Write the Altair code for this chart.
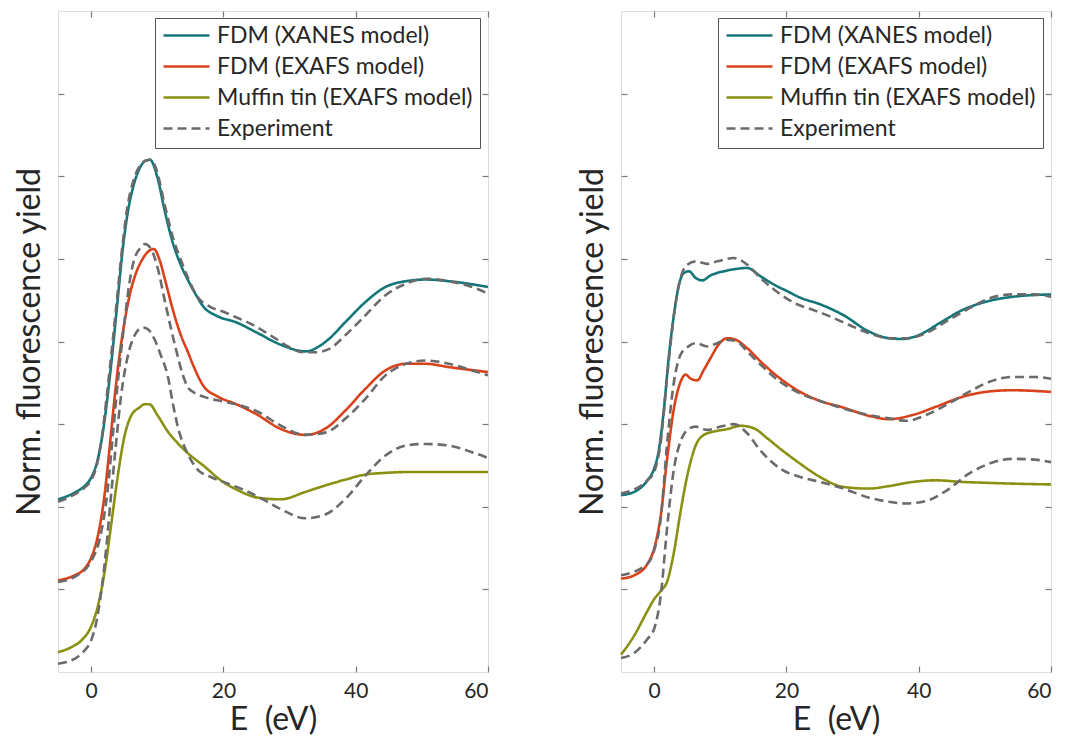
import altair as alt
import pandas as pd

SERIES = ["FDM (XANES model)", "FDM (EXAFS model)", "Muffin tin (EXAFS model)", "Experiment"]
COLORS = ["#13777a", "#d9411a", "#8a9012", "#6b6b6b"]
DASHES = [[1, 0], [1, 0], [1, 0], [9, 5]]

# ---------------- Left panel ----------------
L_xanes_E = [-5, -2.5, -1, 0, 1, 1.76, 2.5, 3.27, 4.03, 4.79, 5.54, 6.3, 7.3, 8.3, 8.9, 10.08, 11.08, 12.34, 13.6, 14.6, 15.6, 17, 19, 22, 25, 28.7, 32.4, 35.5, 38.5, 41.5, 44.5, 47.6, 50.6, 54.1, 60]
L_xanes_Y = [2.09, 2.17, 2.25, 2.35, 2.57, 2.89, 3.34, 3.9, 4.51, 5.12, 5.56, 5.85, 6.09, 6.19, 6.2, 5.97, 5.6, 5.2, 4.92, 4.75, 4.6, 4.42, 4.31, 4.23, 4.11, 3.96, 3.88, 4.0, 4.24, 4.48, 4.66, 4.73, 4.75, 4.73, 4.66]

L_exafs_E = [-5, -2.5, -1, 0, 1, 2, 2.77, 3.53, 4.28, 5.04, 5.8, 6.8, 7.8, 8.8, 9.5, 10.3, 11.3, 12.34, 13.6, 14.6, 15.5, 17, 19, 22, 25, 28.7, 32.4, 35.5, 38.5, 41.5, 44.5, 47.6, 50.6, 54.1, 60]
L_exafs_Y = [1.11, 1.17, 1.25, 1.38, 1.64, 2.12, 2.69, 3.3, 3.82, 4.23, 4.55, 4.83, 5.0, 5.1, 5.12, 5.0, 4.71, 4.39, 4.07, 3.88, 3.7, 3.46, 3.34, 3.24, 3.12, 2.94, 2.87, 2.95, 3.17, 3.43, 3.65, 3.73, 3.73, 3.69, 3.63]

L_mt_E = [-5, -3, -1.5, 0, 1, 2, 3, 4.03, 5.04, 6.05, 7.3, 8.06, 8.8, 10.1, 11.6, 13.1, 14.6, 17.1, 19.6, 22.2, 25.2, 28.7, 32.4, 35.5, 38.5, 41.5, 44.5, 47.6, 54, 60]
L_mt_Y = [0.24, 0.3, 0.38, 0.55, 0.79, 1.19, 1.76, 2.37, 2.85, 3.1, 3.2, 3.24, 3.24, 3.1, 2.91, 2.77, 2.65, 2.49, 2.32, 2.2, 2.11, 2.09, 2.18, 2.26, 2.33, 2.39, 2.41, 2.42, 2.42, 2.42]

L_exp1_E = [-5, -2.5, -1, 0, 1, 1.7, 2.4, 3.2, 4.0, 4.8, 5.5, 6.3, 7.3, 8.3, 9, 10, 11, 12.3, 13.6, 14.6, 16, 18, 20, 22, 24, 26, 28, 30, 32, 34, 36, 38.5, 41.5, 44.5, 47.6, 50.6, 54.1, 57.6, 60]
L_exp1_Y = [2.06, 2.15, 2.23, 2.32, 2.55, 2.88, 3.36, 3.95, 4.58, 5.2, 5.63, 5.92, 6.12, 6.19, 6.2, 6.05, 5.7, 5.28, 4.98, 4.78, 4.55, 4.42, 4.36, 4.29, 4.22, 4.13, 4.03, 3.93, 3.87, 3.87, 3.91, 4.08, 4.32, 4.56, 4.7, 4.76, 4.73, 4.66, 4.58]

L_exp2_E = [-5, -2.5, 0, 1.5, 2.5, 3.27, 4.03, 5.04, 5.8, 6.55, 7.56, 8.16, 9.07, 10.1, 11.1, 12.1, 12.85, 13.85, 14.6, 15.6, 17.1, 20.2, 23.2, 25.2, 28.7, 32.4, 35.5, 38.5, 41.5, 44.5, 47.6, 50.6, 54.1, 57.6, 60]
L_exp2_Y = [1.09, 1.15, 1.34, 1.68, 2.2, 2.85, 3.5, 4.23, 4.71, 5.0, 5.14, 5.18, 5.12, 4.88, 4.51, 4.15, 3.9, 3.6, 3.45, 3.38, 3.33, 3.27, 3.21, 3.15, 2.98, 2.87, 2.9, 3.07, 3.31, 3.59, 3.73, 3.77, 3.73, 3.65, 3.59]

L_exp3_E = [-5, -2.5, -1, 0, 0.76, 1.5, 2.27, 3, 3.78, 4.53, 5.54, 6.55, 7.8, 8.56, 9.57, 10.6, 11.6, 12.34, 13.1, 14.1, 15, 16.1, 18.1, 20.7, 23.2, 26.2, 28.7, 32.4, 35.5, 38.5, 41.5, 44.5, 47.6, 50.6, 54.1, 57.6, 60]
L_exp3_Y = [0.1, 0.16, 0.26, 0.38, 0.59, 0.95, 1.48, 2.12, 2.77, 3.34, 3.82, 4.07, 4.17, 4.15, 4.03, 3.82, 3.58, 3.26, 2.97, 2.73, 2.58, 2.45, 2.36, 2.28, 2.2, 2.08, 1.97, 1.86, 1.91, 2.1, 2.38, 2.62, 2.74, 2.76, 2.74, 2.66, 2.59]

# ---------------- Right panel ----------------
R_xanes_E = [-5, -3, -1, 0, 0.75, 1.5, 2.26, 3, 3.77, 4.52, 5.28, 6.28, 7.29, 8.54, 10.55, 12.56, 14.07, 16.08, 18.09, 20.1, 22.1, 25.1, 28.6, 32.5, 35.5, 37.5, 40.1, 43.1, 46.6, 50.1, 54.1, 60]
R_xanes_Y = [2.14, 2.18, 2.32, 2.46, 2.7, 3.19, 3.84, 4.32, 4.69, 4.83, 4.85, 4.77, 4.74, 4.8, 4.85, 4.88, 4.89, 4.79, 4.69, 4.61, 4.53, 4.45, 4.32, 4.12, 4.04, 4.03, 4.08, 4.22, 4.38, 4.48, 4.54, 4.57]

R_exafs_E = [-5, -3, -1, 0, 1, 2, 3, 4, 4.77, 5.53, 6.53, 7.54, 8.54, 9.55, 11.06, 12.06, 14.07, 16.08, 19.1, 22.1, 25.1, 28.6, 32.5, 35.5, 39.1, 42.6, 46.6, 50.1, 54.1, 60]
R_exafs_Y = [1.13, 1.17, 1.31, 1.49, 1.89, 2.6, 3.19, 3.51, 3.6, 3.55, 3.53, 3.66, 3.8, 3.94, 4.04, 4.03, 3.92, 3.76, 3.55, 3.39, 3.28, 3.2, 3.1, 3.06, 3.11, 3.21, 3.33, 3.39, 3.41, 3.39]

R_mt_E = [-5, -3, -1, 0, 1, 2, 3, 4, 5.03, 6.28, 7.54, 9.05, 11.06, 13.07, 15.08, 17.09, 19.1, 22.1, 25.1, 28.6, 32.5, 35.5, 39.1, 42.6, 46.6, 50.1, 54.1, 60]
R_mt_Y = [0.21, 0.44, 0.74, 0.88, 0.98, 1.1, 1.45, 1.94, 2.38, 2.74, 2.87, 2.91, 2.94, 2.98, 2.95, 2.83, 2.7, 2.52, 2.36, 2.24, 2.22, 2.25, 2.3, 2.32, 2.3, 2.29, 2.28, 2.27]

R_exp1_E = [-5, -1, 0, 1.01, 2, 3, 4, 5.03, 6.28, 8.04, 9.55, 12.06, 14.07, 16.08, 19.1, 21.1, 24.1, 26.4, 29.5, 32.5, 35.5, 38.1, 41.1, 44.1, 47.6, 50.6, 54.1, 57.6, 60]
R_exp1_Y = [2.16, 2.32, 2.42, 2.79, 3.6, 4.32, 4.77, 4.93, 4.97, 4.94, 4.97, 5.01, 4.93, 4.77, 4.57, 4.47, 4.38, 4.31, 4.2, 4.1, 4.04, 4.04, 4.1, 4.24, 4.4, 4.52, 4.57, 4.57, 4.54]

R_exp2_E = [-5, -1, 0, 1, 2, 3, 4, 5.03, 6.28, 8.04, 9.55, 11.06, 12.56, 14.07, 16.08, 19.1, 22.1, 25.1, 28.6, 32.5, 35.5, 38.1, 41.1, 44.1, 47.6, 50.6, 54.1, 57.6, 60]
R_exp2_Y = [1.17, 1.31, 1.47, 1.85, 2.79, 3.51, 3.84, 3.93, 3.98, 3.94, 3.98, 4.02, 4.0, 3.88, 3.72, 3.51, 3.37, 3.28, 3.19, 3.11, 3.07, 3.04, 3.11, 3.23, 3.39, 3.51, 3.57, 3.57, 3.55]

R_exp3_E = [-5, -3, -1, 0, 1, 2, 3, 4, 5.03, 6.28, 8.04, 10.05, 12.06, 14.07, 16.08, 19.1, 22.1, 25.1, 28.6, 32.5, 35.5, 38.1, 41.1, 44.1, 47.6, 50.6, 54.1, 57.6, 60]
R_exp3_Y = [0.17, 0.23, 0.4, 0.52, 0.92, 1.77, 2.46, 2.79, 2.93, 2.97, 2.93, 2.97, 3.0, 2.89, 2.68, 2.46, 2.36, 2.3, 2.22, 2.11, 2.06, 2.04, 2.07, 2.19, 2.4, 2.52, 2.58, 2.57, 2.54]

X_TICKS = [0, 20, 40, 60]
Y_TICKS = [1, 2, 3, 4, 5, 6, 7]

FONT = "Lato"
TXT = "#262626"
FRAME = "#7a7a7a"


def frame_of(curves):
    rows = []
    for curve_id, series, es, ys in curves:
        for e, y in zip(es, ys):
            rows.append({"curve": curve_id, "series": series, "E": e, "Y": y})
    return pd.DataFrame(rows)


left_df = frame_of([
    ("xanes", SERIES[0], L_xanes_E, L_xanes_Y),
    ("exafs", SERIES[1], L_exafs_E, L_exafs_Y),
    ("mt", SERIES[2], L_mt_E, L_mt_Y),
    ("exp1", SERIES[3], L_exp1_E, L_exp1_Y),
    ("exp2", SERIES[3], L_exp2_E, L_exp2_Y),
    ("exp3", SERIES[3], L_exp3_E, L_exp3_Y),
])
right_df = frame_of([
    ("xanes", SERIES[0], R_xanes_E, R_xanes_Y),
    ("exafs", SERIES[1], R_exafs_E, R_exafs_Y),
    ("mt", SERIES[2], R_mt_E, R_mt_Y),
    ("exp1", SERIES[3], R_exp1_E, R_exp1_Y),
    ("exp2", SERIES[3], R_exp2_E, R_exp2_Y),
    ("exp3", SERIES[3], R_exp3_E, R_exp3_Y),
])

xscale = alt.Scale(domain=[-5, 60], nice=False, zero=False)
yscale = alt.Scale(domain=[0, 8], nice=False, zero=False)

legend_kw = dict(
    title=None, orient="none", legendX=97, legendY=7,
    symbolType="stroke", symbolSize=2116, symbolStrokeWidth=2.6,
    labelFont=FONT, labelFontSize=23, labelColor=TXT, labelOffset=6,
    strokeColor="#555555", fillColor="white", padding=7, rowPadding=7,
    clipHeight=21, labelLimit=400,
)

axis_common = dict(
    grid=False, domain=False, offset=-6, tickSize=6, tickColor=FRAME, tickWidth=1.2,
)


def panel(df):
    base = alt.Chart(df)
    lines = base.mark_line(interpolate="monotone", strokeWidth=2.6).encode(
        x=alt.X("E:Q", scale=xscale, axis=alt.Axis(
            values=X_TICKS, title="E\u00a0 (eV)", labelFont=FONT, labelFontSize=21,
            labelColor=TXT, labelPadding=8, titleFont=FONT, titleFontSize=32,
            titleFontWeight="normal", titleColor=TXT, titlePadding=3, **axis_common)),
        y=alt.Y("Y:Q", scale=yscale, axis=alt.Axis(
            values=Y_TICKS, labels=False, title="Norm. fluorescence yield",
            titleFont=FONT, titleFontSize=32, titleFontWeight="normal", titleColor=TXT,
            titlePadding=11, **axis_common)),
        color=alt.Color("series:N", scale=alt.Scale(domain=SERIES, range=COLORS),
                        legend=alt.Legend(**legend_kw)),
        strokeDash=alt.StrokeDash("series:N", scale=alt.Scale(domain=SERIES, range=DASHES),
                                  legend=alt.Legend(**legend_kw)),
        detail="curve:N",
    )
    mirror = base.mark_point(opacity=0).encode(
        x=alt.X("E:Q", scale=xscale, axis=alt.Axis(
            orient="top", values=X_TICKS, labels=False, title=None, **axis_common)),
        y=alt.Y("Y:Q", scale=yscale, axis=alt.Axis(
            orient="right", values=Y_TICKS, labels=False, title=None, **axis_common)),
    )
    return alt.layer(lines, mirror).resolve_axis(x="independent", y="independent").properties(
        width=430, height=661)


chart = alt.hconcat(panel(left_df), panel(right_df), spacing=81).resolve_scale(
    color="independent", strokeDash="independent"
).resolve_legend(color="independent", strokeDash="independent").properties(
    padding={"left": 4, "top": 1, "right": 0, "bottom": 0}
).configure_view(stroke=FRAME, strokeWidth=1.3).configure(background="white")

chart.save("out.html", embed_options={"renderer": "svg", "actions": False})
